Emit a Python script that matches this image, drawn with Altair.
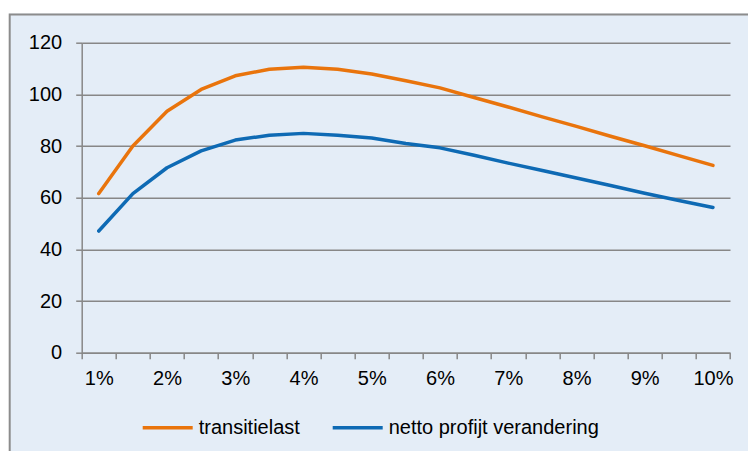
import altair as alt
import pandas as pd

# ---- data ----
rates = [1, 1.5, 2, 2.5, 3, 3.5, 4, 4.5, 5, 5.5, 6, 6.5, 7, 7.5, 8, 8.5, 9, 9.5, 10]
transitielast = [61.6, 80.0, 93.5, 101.9, 107.2, 109.7, 110.5, 109.7, 107.9, 105.3,
                 102.5, 98.8, 95.1, 91.3, 87.6, 83.8, 80.1, 76.3, 72.5]
netto_profijt = [47.1, 61.6, 71.6, 78.1, 82.3, 84.2, 84.9, 84.2, 83.1, 81.0,
                 79.3, 76.4, 73.4, 70.5, 67.6, 64.7, 61.7, 58.9, 56.2]
series_names = ["transitielast", "netto profijt verandering"]
series_colors = ["#E9740C", "#0E6AB4"]
y_ticks = [0, 20, 40, 60, 80, 100, 120]
x_label_values = [1, 2, 3, 4, 5, 6, 7, 8, 9, 10]

rows = []
for r, a, b in zip(rates, transitielast, netto_profijt):
    rows.append({"rate": r, "serie": series_names[0], "waarde": a})
    rows.append({"rate": r, "serie": series_names[1], "waarde": b})
df = pd.DataFrame(rows)

# category boundaries for tick marks + integer positions for labels
boundaries = [r - 0.25 for r in rates] + [rates[-1] + 0.25]
x_values = sorted(boundaries + x_label_values)

FONT = "Liberation Sans"
FS = 20
GRAY = "#878787"
BG = "#E4EDF7"

W, H = 648.3, 310
PAD_L, PAD_T = 73.7, 34.7
TOTAL_W, TOTAL_H = 740, 443

lines = alt.Chart(df).mark_line(strokeWidth=3.5, strokeCap="round", strokeJoin="round").encode(
    x=alt.X("rate:Q",
            scale=alt.Scale(domain=[rates[0] - 0.25, rates[-1] + 0.25], nice=False, zero=False),
            axis=alt.Axis(values=x_values, title=None, grid=False,
                          labelExpr="datum.value % 1 == 0 ? datum.value + '%' : ''",
                          tickOpacity={"condition": {"test": "datum.value % 1 == 0", "value": 0}, "value": 1},
                          labelOverlap=False, labelFlush=False,
                          tickSize=6, tickColor=GRAY, tickWidth=1.5,
                          domainColor=GRAY, domainWidth=1.5,
                          labelFont=FONT, labelFontSize=FS, labelColor="#000000",
                          labelPadding=10)),
    y=alt.Y("waarde:Q",
            scale=alt.Scale(domain=[0, 120], nice=False),
            axis=alt.Axis(values=y_ticks, title=None, grid=True,
                          gridColor=GRAY, gridWidth=1.5,
                          tickSize=6, tickColor=GRAY, tickWidth=1.5,
                          domainColor=GRAY, domainWidth=1.5,
                          labelFont=FONT, labelFontSize=FS, labelColor="#000000",
                          labelPadding=14)),
    color=alt.Color("serie:N",
                    scale=alt.Scale(domain=series_names, range=series_colors),
                    sort=series_names,
                    legend=alt.Legend(orient="none", legendX=59, legendY=358,
                                      direction="horizontal", columns=2, title=None,
                                      symbolType="stroke", symbolSize=2500,
                                      symbolStrokeWidth=3.5, labelFont=FONT,
                                      labelFontSize=FS, labelColor="#000000",
                                      labelOffset=4, columnPadding=25,
                                      labelLimit=400, padding=0)),
)

one = alt.Data(values=[{"k": 1}])

# white strips outside the chart frame
top_strip = alt.Chart(one).mark_rect(fill="white").encode(
    x=alt.value(-PAD_L), x2=alt.value(W + 30),
    y=alt.value(-PAD_T), y2=alt.value(-PAD_T + 5.6),
)
left_strip = alt.Chart(one).mark_rect(fill="white").encode(
    x=alt.value(-PAD_L), x2=alt.value(-PAD_L + 1.0),
    y=alt.value(-PAD_T), y2=alt.value(H + 120),
)
frame = alt.Chart(one).mark_rect(fill="transparent", stroke="#8C8C8C", strokeWidth=2).encode(
    x=alt.value(-PAD_L + 1.7), x2=alt.value(W + 60),
    y=alt.value(-PAD_T + 6.6), y2=alt.value(H + 150),
)

chart = alt.layer(lines, top_strip, left_strip, frame).properties(
    width=W, height=H,
    autosize=alt.AutoSizeParams(type="none"),
    padding={"left": PAD_L, "top": PAD_T, "right": TOTAL_W - PAD_L - W, "bottom": TOTAL_H - PAD_T - H},
    background=BG,
).configure_view(strokeWidth=0)

chart.save("out.html", embed_options={"renderer": "svg", "actions": False})
